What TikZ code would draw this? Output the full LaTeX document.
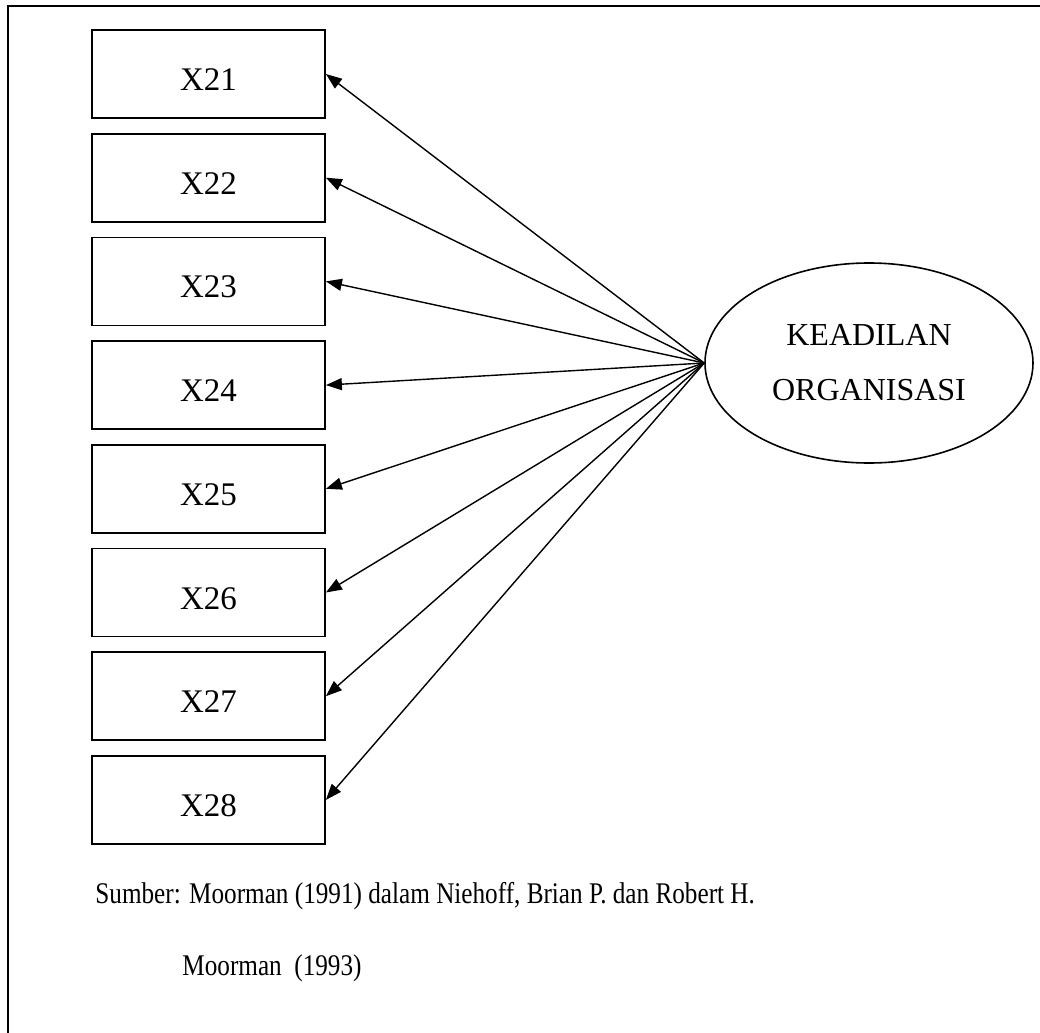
\documentclass[tikz,border=0pt]{standalone}
\usepackage{fontspec}
\setmainfont{Liberation Serif}
\newfontfamily\srcfont[FakeStretch=0.84]{Liberation Serif}
\usetikzlibrary{shapes.geometric,arrows.meta}

\begin{document}
\begin{tikzpicture}[x=0.5pt, y=-0.5pt, node distance=51.85pt,
    indbox/.style={draw, rectangle, line width=0.9pt, minimum width=116.5pt, minimum height=44pt, inner sep=0pt, text height=16.5pt, text depth=0pt, font=\fontsize{16.5}{19}\selectfont},
    load/.style={-{Triangle[length=8pt,width=6pt]}, line width=0.7pt}]
    \useasboundingbox (0,0) rectangle (1040,1033);
    \draw[line width=1pt] (1040,6) -- (8,6) -- (8,1033);

    \node (x21) [indbox] at (208.5,74) {X21};
    \node (x22) [indbox, below of=x21] {X22};
    \node (x23) [indbox, below of=x22] {X23};
    \node (x24) [indbox, below of=x23] {X24};
    \node (x25) [indbox, below of=x24] {X25};
    \node (x26) [indbox, below of=x25] {X26};
    \node (x27) [indbox, below of=x26] {X27};
    \node (x28) [indbox, below of=x27] {X28};

    \node (org) [draw, ellipse, line width=0.8pt, minimum width=164pt, minimum height=100pt, inner sep=0pt, align=center, font=\fontsize{16}{19}\selectfont] at (869,363) {KEADILAN\\[8.5pt]ORGANISASI};

    \draw[load] (org.west) -- (x21.east);
    \draw[load] (org.west) -- (x22.east);
    \draw[load] (org.west) -- (x23.east);
    \draw[load] (org.west) -- (x24.east);
    \draw[load] (org.west) -- (x25.east);
    \draw[load] (org.west) -- (x26.east);
    \draw[load] (org.west) -- (x27.east);
    \draw[load] (org.west) -- (x28.east);

    \node (src1) [anchor=base west, inner sep=0pt, font=\srcfont\fontsize{15}{18}\selectfont] at (95,903) {Sumber: Moorman (1991) dalam Niehoff, Brian P. dan Robert H.};
    \node (src2) [anchor=base west, inner sep=0pt, font=\srcfont\fontsize{15}{18}\selectfont] at (182,975) {Moorman\ \ (1993)};
\end{tikzpicture}
\end{document}
